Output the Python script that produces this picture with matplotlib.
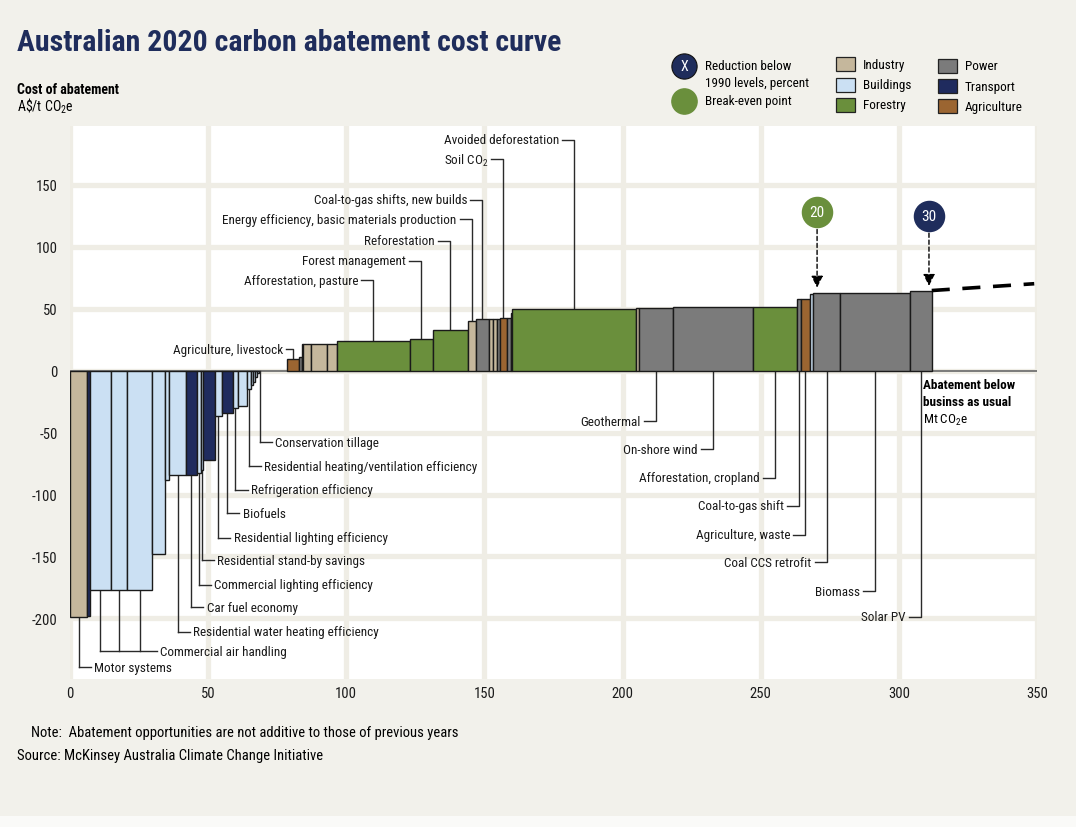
import numpy as np
import matplotlib.pyplot as plt
from matplotlib import font_manager as fm
from matplotlib.patches import Rectangle

# pick a narrow face if one is around
names = {f.name for f in fm.fontManager.ttflist}
stretches = {(f.name, f.stretch) for f in fm.fontManager.ttflist}
font = None
for cand in ['Roboto Condensed', 'Liberation Sans Narrow', 'Open Sans Condensed', 'Noto Sans Condensed']:
    if cand in names:
        font = cand
        break
stretch = 'normal'
if font is None:
    if any(n == 'DejaVu Sans' and s in ('condensed', 600, 'semi-condensed') for n, s in stretches):
        font, stretch = 'DejaVu Sans', 'condensed'
    else:
        font = 'Roboto'

plt.rcParams['font.family'] = [font, 'DejaVu Sans']
plt.rcParams['font.stretch'] = stretch
plt.rcParams['mathtext.fontset'] = 'custom'
plt.rcParams['mathtext.rm'] = font
plt.rcParams['mathtext.default'] = 'regular'
plt.rcParams['axes.unicode_minus'] = False

# sector colours
colors = {'I': '#c5b79c', 'B': '#cbe0f3', 'F': '#6a8f3c',
          'P': '#7b7b7b', 'T': '#1f2b5e', 'A': '#9b6531'}
navy = '#1f2d5c'
green = '#6a8f3c'

# abatement volume (Mt CO2e), cost (A$/t) and sector of each opportunity, left to right
widths = [6.3, 0.95, 7.5, 5.8, 9.25, 4.6, 1.55, 6.05, 3.85, 1.45, 0.95, 4.25, 2.4, 4.0,
          2.0, 3.05, 1.45, 0.95, 0.75, 0.75, 0.55, 0.7, 9.55,
          4.35, 0.85, 0.6, 2.65, 6.0, 3.45, 26.5, 8.2, 12.7, 3.0, 4.7, 1.35, 1.45, 1.2,
          2.4, 1.55, 0.5, 44.75, 1.1, 12.4, 28.95, 15.95, 1.3, 3.25, 1.2, 9.7, 25.5, 7.7]
costs = [-199, -198, -177, -177, -177, -148, -88.5, -84, -84, -83, -80, -72, -37, -34,
         -30, -29, -15, -12, -9, -5, -2, 0, 0,
         9, 11, 21, 21, 21, 21, 24, 25.5, 33, 40, 41.4, 41.4, 41.4, 41.4,
         42.5, 42.5, 46, 49.5, 50.5, 50.5, 51, 51.3, 57.5, 57.5, 62, 62.6, 62.6, 64]
sectors = ['I', 'T', 'B', 'B', 'B', 'B', 'B', 'B', 'T', 'B', 'B', 'T', 'B', 'T',
           'B', 'B', 'B', 'B', 'B', 'B', 'B', 'A', '-',
           'A', 'P', 'T', 'I', 'I', 'I', 'F', 'F', 'F', 'I', 'P', 'I', 'I', 'P',
           'A', 'P', 'T', 'F', 'I', 'P', 'P', 'F', 'P', 'A', 'B', 'P', 'P', 'P']

# labels below the bars (negative costs): text, bar indices, label height
neg_labels = [('Motor systems', [0], -239.5),
              ('Commercial air handling', [2, 3, 4], -226.6),
              ('Residential water heating efficiency', [7], -210.5),
              ('Car fuel economy', [8], -191.1),
              ('Commercial lighting efficiency', [9], -172.6),
              ('Residential stand-by savings', [10], -153.2),
              ('Residential lighting efficiency', [12], -134.7),
              ('Biofuels', [13], -115.3),
              ('Refrigeration efficiency', [14], -96),
              ('Residential heating/ventilation efficiency', [16], -77.4),
              ('Conservation tillage', [21], -58)]
up_labels = [('Agriculture, livestock', 23, 17),
             ('Afforestation, pasture', 29, 72.6),
             ('Forest management', 30, 88.7),
             ('Reforestation', 31, 104.8),
             ('Energy efficiency, basic materials production', 32, 121.8),
             ('Coal-to-gas shifts, new builds', 33, 137.9),
             ('Soil CO$_2$', 37, 170.2),
             ('Avoided deforestation', 40, 186.3)]
down_labels = [('Geothermal', 42, -41.1),
               ('On-shore wind', 43, -63.7),
               ('Afforestation, cropland', 44, -86.3),
               ('Coal-to-gas shift', 45, -108.9),
               ('Agriculture, waste', 46, -132.3),
               ('Coal CCS retrofit', 48, -154.8),
               ('Biomass', 49, -178.2),
               ('Solar PV', 50, -198.4)]

# milestones: reduction below 1990 levels (%), abatement, marker height
milestones = [('20', 270.4, 128, green), ('30', 310.9, 125, navy)]
ext_x = [311.9, 349]
ext_y = [64.5, 70]

widths = np.array(widths)
costs = np.array(costs)
lefts = np.concatenate([[0], np.cumsum(widths)[:-1]])
centers = lefts + widths / 2

fs = 9.5
fig = plt.figure(figsize=(10.76, 8.28), dpi=100, facecolor='#f2f1eb')
ax = fig.add_axes([70 / 1076, 1 - 680 / 828, 967 / 1076, 553 / 828])
ax.set_facecolor('white')

for l, w, c, s in zip(lefts, widths, costs, sectors):
    if s == '-' or c == 0:
        continue
    ax.bar(l, c, width=w, align='edge', color=colors[s], edgecolor='#1a1a1a',
           linewidth=1.0, zorder=3)

ax.axhline(0, color='#7a7a7a', lw=1.4, zorder=2)
ax.plot(ext_x, ext_y, color='black', lw=2.6, dashes=(5, 3.5), zorder=3)

lc = '#2a2a2a'
dx = 4.35
for text, idx, y in neg_labels:
    xs = centers[idx]
    for i in idx:
        ax.plot([centers[i], centers[i]], [min(costs[i], 0), y], color=lc, lw=1.0, zorder=2.5)
    ext = dx if len(idx) == 1 else 6.2
    ax.plot([xs.min(), xs.max() + ext], [y, y], color=lc, lw=1.0)
    ax.text(xs.max() + ext + 1.2, y, text, fontsize=fs, va='center', ha='left', color='#1a1a1a')

for text, i, y in up_labels:
    x = centers[i]
    h = 2.6 if i == 23 else dx
    ax.plot([x, x, x - h], [costs[i], y, y], color=lc, lw=1.0, zorder=2.5)
    ax.text(x - h - 1.2, y, text, fontsize=fs, va='center', ha='right', color='#1a1a1a')

for text, i, y in down_labels:
    x = centers[i]
    ax.plot([x, x, x - dx], [0, y, y], color=lc, lw=1.0, zorder=2.5)
    ax.text(x - dx - 1.2, y, text, fontsize=fs, va='center', ha='right', color='#1a1a1a')

for lab, x, y, col in milestones:
    ax.scatter([x], [y], s=470, color=col, zorder=5)
    ax.text(x, y, lab, color='white', fontsize=11, ha='center', va='center', zorder=6)
    top = costs[np.searchsorted(lefts, x) - 1] + 2
    ax.annotate('', xy=(x, top), xytext=(x, y - 12),
                arrowprops=dict(arrowstyle='-|>,head_width=0.35,head_length=0.7',
                                color='black', lw=1.0, linestyle=(0, (3, 2))), zorder=4)

ax.set_xlim(0, 350)
ax.set_ylim(-248.8, 197.2)
ax.set_xticks(np.arange(0, 351, 50))
ax.set_yticks(np.arange(-200, 151, 50))
ax.grid(color='#efede5', lw=3.8, zorder=0)
ax.set_axisbelow(True)
for sp in ax.spines.values():
    sp.set_visible(False)
ax.tick_params(length=0, labelsize=10.5, colors='#1a1a1a')
ax.tick_params(axis='y', pad=9)
ax.tick_params(axis='x', pad=5)

# overlay in pixel coordinates for header, legend and footer
ov = fig.add_axes([0, 0, 1, 1], zorder=10)
ov.set_xlim(0, 1076)
ov.set_ylim(828, 0)
ov.axis('off')
ov.patch.set_alpha(0)

ov.text(17, 43, 'Australian 2020 carbon abatement cost curve', fontsize=21.5,
        fontweight='bold', color=navy, va='center')
ov.text(17, 90, 'Cost of abatement', fontsize=10, fontweight='bold', va='center')
ov.text(17, 106, r'A\$/t CO$_2$e', fontsize=10, va='center')

ov.scatter([684], [67], s=330, color=navy, edgecolor='#111', lw=0.8)
ov.text(684, 67, 'X', color='white', fontsize=10, ha='center', va='center')
ov.scatter([684], [102], s=330, color=green)
ov.text(705, 66, 'Reduction below', fontsize=fs, va='center')
ov.text(705, 83, '1990 levels, percent', fontsize=fs, va='center')
ov.text(705, 102, 'Break-even point', fontsize=fs, va='center')

legend_items = [('Industry', 'I', 836, 65), ('Buildings', 'B', 836, 86), ('Forestry', 'F', 836, 106),
                ('Power', 'P', 938, 67), ('Transport', 'T', 938, 87), ('Agriculture', 'A', 938, 107)]
for name, s, x, y in legend_items:
    ov.add_patch(Rectangle((x, y - 7), 19, 14, facecolor=colors[s], edgecolor='#222', lw=0.9))
    ov.text(x + 27, y, name, fontsize=fs, va='center')

ov.text(923, 386, 'Abatement below', fontsize=fs, fontweight='bold', va='center')
ov.text(923, 403, 'businss as usual', fontsize=fs, fontweight='bold', va='center')
ov.text(923, 420, 'Mt CO$_2$e', fontsize=fs, va='center')

ov.text(31, 733, 'Note:  Abatement opportunities are not additive to those of previous years',
        fontsize=10.5, va='center')
ov.text(17, 756, 'Source: McKinsey Australia Climate Change Initiative', fontsize=10.5, va='center')
ov.add_patch(Rectangle((0, 817), 1076, 11, facecolor='#fafaf8', edgecolor='none'))

fig.savefig('out.png', dpi=100, facecolor=fig.get_facecolor())
